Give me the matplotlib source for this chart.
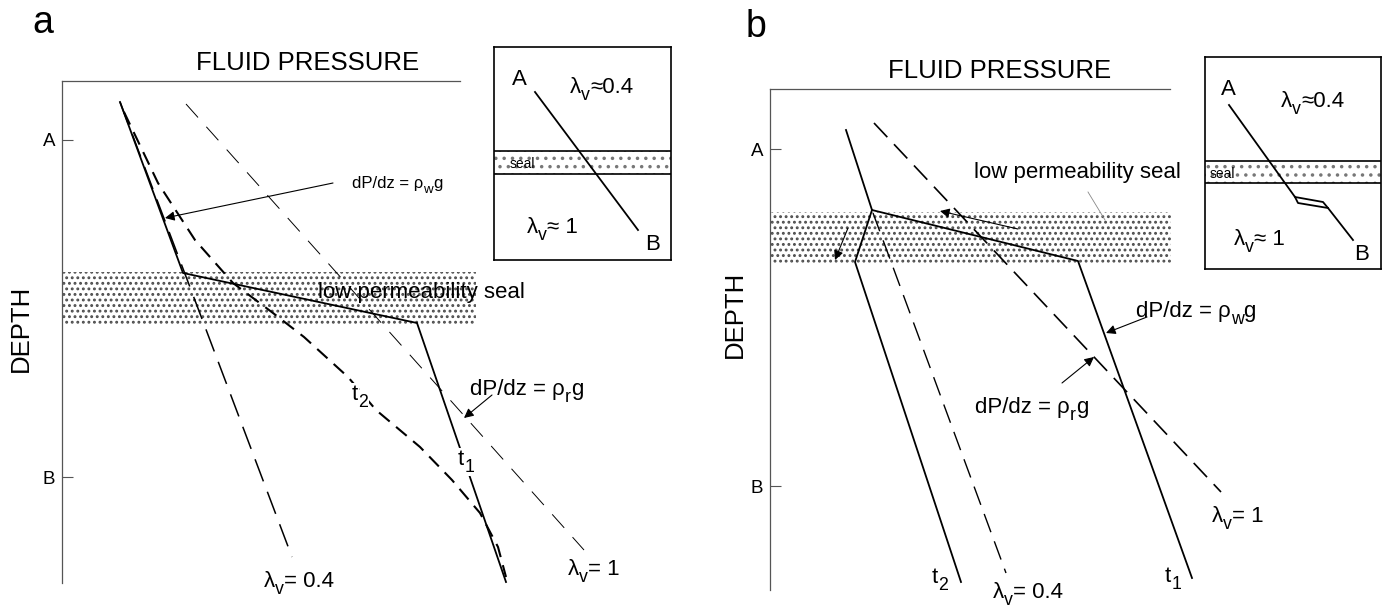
import matplotlib
matplotlib.use("Agg")
import matplotlib.pyplot as plt
import matplotlib.transforms as mtransforms
from matplotlib.patches import Rectangle

plt.rcParams['font.family'] = ['Liberation Sans', 'DejaVu Sans']
plt.rcParams['lines.scale_dashes'] = False
plt.rcParams['hatch.linewidth'] = 1.3

W, H = 1385, 613

# --- panel a: pressure (right) vs depth (down), panel units ---
a_t1_p = [58, 121, 355, 444]
a_t1_z = [21, 192, 242, 501]
a_t2_p = [62, 96, 133, 171, 211, 242, 286, 314, 358, 390, 418, 436, 444]
a_t2_z = [31, 102, 159, 202, 232, 256, 296, 329, 366, 399, 432, 466, 496]
a_lam04_p = [58, 230]
a_lam04_z = [21, 476]
a_lam1_p = [124, 522]
a_lam1_z = [23, 469]
a_seal_z = [191, 245]
a_seal_p = [0, 414]

# --- panel b ---
b_t1_p = [76, 102, 308, 422]
b_t1_z = [41, 121, 172, 489]
b_t2_p = [102, 85, 191]
b_t2_z = [121, 173, 493]
b_lam04_p = [103, 236]
b_lam04_z = [124, 484]
b_lam1_p = [104, 451]
b_lam1_z = [34, 403]
b_seal_z = [123, 175]
b_seal_p = [0, 401]

depth_ticks = {'a': [59, 396], 'b': [60, 397]}
depth_labels = ['A', 'B']

# insets: path A -> B across the seal
ia_path_x = [41, 144]
ia_path_y = [45, 183]
ia_seal = [104, 127]
ib_path_x = [24, 90, 118, 123, 148]
ib_path_y = [48, 140, 145, 151, 183]
ib_step_x = [90, 93, 123]
ib_step_y = [140, 146, 151]
ib_seal = [104, 126]

AXIS_GREY = '#555555'
STIPPLE = '#4d4d4d'

fig = plt.figure(figsize=(W / 100, H / 100), dpi=100)
renderer = fig.canvas.get_renderer()


def px_axes(x0, y0, w, h):
    return fig.add_axes([x0 / W, 1 - (y0 + h) / H, w / W, h / H])


def rich(ax, x, y, parts, fs, **kw):
    # text pieces laid out left to right; (text, True) pieces are dropped subscripts
    dx = 0
    for s, sub in parts:
        size = fs * 0.8 if sub else fs
        dy = -fs * 0.3 if sub else 0
        tr = mtransforms.offset_copy(ax.transData, fig=fig, x=dx, y=dy, units='points')
        t = ax.text(x, y, s, fontsize=size, transform=tr, **kw)
        dx += t.get_window_extent(renderer).width * 72 / fig.dpi


def panel(x0, y0, w, h, ticks):
    ax = px_axes(x0, y0, w, h)
    ax.set_xlim(0, w)
    ax.set_ylim(h, 0)
    ax.patch.set_alpha(0)
    for s in ['right', 'bottom']:
        ax.spines[s].set_visible(False)
    for s in ['left', 'top']:
        ax.spines[s].set_color(AXIS_GREY)
        ax.spines[s].set_linewidth(0.9)
    ax.set_xticks([])
    ax.set_yticks(ticks)
    ax.set_yticklabels(depth_labels, fontsize=13.5)
    ax.tick_params(axis='y', direction='in', length=8, width=0.8,
                   color=AXIS_GREY, pad=5)
    return ax


def seal(ax, p, z):
    ax.add_patch(Rectangle((p[0], z[0]), p[1] - p[0], z[1] - z[0],
                           facecolor='white', edgecolor=STIPPLE, lw=0,
                           hatch='...', clip_on=False, zorder=0))


def arrow(ax, tail, head):
    ax.annotate('', xy=head, xytext=tail, annotation_clip=False,
                arrowprops=dict(arrowstyle='-|>', lw=0.8, color='black',
                                mutation_scale=14, shrinkA=0, shrinkB=0))


def inset(x0, y0, w, h, seal_z):
    ax = px_axes(x0, y0, w, h)
    ax.set_xlim(0, w)
    ax.set_ylim(h, 0)
    ax.set_xticks([])
    ax.set_yticks([])
    for s in ax.spines.values():
        s.set_linewidth(1.2)
    ax.add_patch(Rectangle((0, seal_z[0]), w, seal_z[1] - seal_z[0],
                           facecolor='white', edgecolor='#777777', lw=0,
                           hatch='..', zorder=0))
    ax.axhline(seal_z[0], color='black', lw=1.2)
    ax.axhline(seal_z[1], color='black', lw=1.2)
    return ax


white = dict(facecolor='white', edgecolor='none', pad=0.5)

# ----- panel a -----
ax = panel(62, 81, 398, 502, depth_ticks['a'])
seal(ax, a_seal_p, a_seal_z)
ax.plot(a_lam1_p, a_lam1_z, color='black', lw=0.7, ls=(0, (13, 9)), clip_on=False)
ax.plot(a_lam04_p, a_lam04_z, color='black', lw=1.1, ls=(0, (17, 8)), clip_on=False)
ax.plot(a_t2_p, a_t2_z, color='black', lw=1.5, ls=(0, (10, 6)), clip_on=False)
ax.plot(a_t1_p, a_t1_z, color='black', lw=1.3, clip_on=False)

arrow(ax, (271, 102), (103, 137))
rich(ax, 290, 107, [('dP/dz = ρ', False), ('w', True), ('g', False)], 12)
ax.text(256, 217, 'low permeability seal', fontsize=16)
arrow(ax, (430, 314), (402, 337))
rich(ax, 408, 314, [('dP/dz = ρ', False), ('r', True), ('g', False)], 16)
rich(ax, 290, 319, [('t', False), ('2', True)], 16, bbox=white)
rich(ax, 396, 384, [('t', False), ('1', True)], 16, bbox=white)
rich(ax, 202, 506, [('λ', False), ('v', True), ('= 0.4', False)], 16)
rich(ax, 506, 494, [('λ', False), ('v', True), ('= 1', False)], 16)

# ----- panel b -----
bx = panel(770, 89, 400, 501, depth_ticks['b'])
seal(bx, b_seal_p, b_seal_z)
bx.plot(b_lam1_p, b_lam1_z, color='black', lw=1.2, ls=(0, (14, 7)), clip_on=False)
bx.plot(b_lam04_p, b_lam04_z, color='black', lw=1.0, ls=(0, (14, 7)), clip_on=False)
bx.plot(b_t1_p, b_t1_z, color='black', lw=1.3, clip_on=False)
bx.plot(b_t2_p, b_t2_z, color='black', lw=1.3, clip_on=False)

arrow(bx, (248, 140), (170, 122))
arrow(bx, (78, 139), (65, 171))
bx.plot([318, 335], [103, 131], color='#888888', lw=0.6, clip_on=False)
bx.text(204, 89, 'low permeability seal', fontsize=16)
arrow(bx, (377, 228), (336, 244))
rich(bx, 366, 228, [('dP/dz = ρ', False), ('w', True), ('g', False)], 16)
arrow(bx, (292, 294), (324, 268))
rich(bx, 205, 324, [('dP/dz = ρ', False), ('r', True), ('g', False)], 16)
rich(bx, 162, 494, [('t', False), ('2', True)], 16)
rich(bx, 395, 493, [('t', False), ('1', True)], 16)
rich(bx, 223, 509, [('λ', False), ('v', True), ('= 0.4', False)], 16)
rich(bx, 442, 433, [('λ', False), ('v', True), ('= 1', False)], 16)

# ----- insets -----
ia = inset(494, 47, 177, 213, ia_seal)
ia.plot(ia_path_x, ia_path_y, color='black', lw=1.3)
ia.text(18, 38, 'A', fontsize=16)
rich(ia, 76, 46, [('λ', False), ('v', True), ('≈0.4', False)], 16)
ia.text(16, 121, 'seal', fontsize=10)
rich(ia, 33, 186, [('λ', False), ('v', True), ('≈ 1', False)], 16)
ia.text(151, 203, 'B', fontsize=16)

ib = inset(1205, 57, 176, 212, ib_seal)
ib.plot(ib_path_x, ib_path_y, color='black', lw=1.3)
ib.plot(ib_step_x, ib_step_y, color='black', lw=1.3)
ib.text(16, 38, 'A', fontsize=16)
rich(ib, 76, 50, [('λ', False), ('v', True), ('≈0.4', False)], 16)
ib.text(5, 121, 'seal', fontsize=10)
rich(ib, 29, 188, [('λ', False), ('v', True), ('≈ 1', False)], 16)
ib.text(149, 203, 'B', fontsize=16)

# ----- titles and axis names -----
for x, y, s in [(32, 33, 'a'), (746, 37, 'b')]:
    fig.text(x / W, 1 - y / H, s, fontsize=27)
for x, y in [(196, 70), (888, 78)]:
    fig.text(x / W, 1 - y / H, 'FLUID PRESSURE', fontsize=18.5)
for x, y in [(21, 328), (735, 314)]:
    fig.text(x / W, 1 - y / H, 'DEPTH', fontsize=18.5, rotation=90,
             ha='center', va='center')

fig.savefig('out.png', dpi=100)
